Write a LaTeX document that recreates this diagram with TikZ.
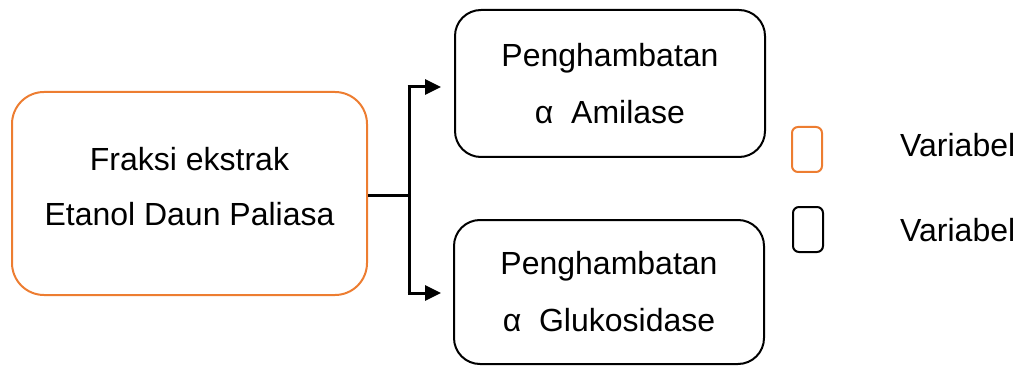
\documentclass[tikz,border=0pt]{standalone}
\usepackage{fontspec}
\setmainfont{Liberation Sans}
\usetikzlibrary{arrows.meta}
\definecolor{boxorange}{HTML}{ED7D31}
\tikzset{
  mainbox/.style={draw=black, line width=2pt, rounded corners=26pt, align=center,
    font=\fontsize{32}{57}\selectfont, inner sep=0pt},
  srcbox/.style={draw=boxorange, line width=2pt, rounded corners=32pt, inner sep=0pt},
  srctext/.style={align=center, font=\fontsize{32}{55}\selectfont, inner sep=0pt},
  keybox/.style={draw=black, line width=2pt, rounded corners=6pt, minimum width=30pt, minimum height=45pt, inner sep=0pt},
  keytext/.style={anchor=west, font=\fontsize{32}{37}\selectfont, inner sep=0pt},
  link/.style={line width=3pt},
  arrowlink/.style={line width=3pt, -{Triangle[length=16pt, width=15pt]}}
}
\begin{document}
\begin{tikzpicture}[x=1pt, y=-1pt]
\useasboundingbox (0,0) rectangle (1019,366);
\node[srcbox, minimum width=355pt, minimum height=203pt] (src) at (189.5,193.5) {};
\node[srctext] (srclabel) at ([yshift=7pt]src.center) {Fraksi ekstrak\\Etanol Daun Paliasa};
\node[mainbox, minimum width=310pt, minimum height=147pt] (amy) at (610,83.5)
  {Penghambatan\\α~~Amilase};
\node[mainbox, minimum width=310pt, minimum height=144pt] (glu) at (609,292)
  {Penghambatan\\α~~Glukosidase};
\coordinate (j) at (409,195);
\coordinate (jt) at (409,87);
\coordinate (jb) at (409,293);
\coordinate (tt) at (441,87);
\coordinate (tb) at (441,293);
\draw[link] (src.east |- j) -- (j);
\draw[link] (jt) -- (jb);
\draw[arrowlink] ([xshift=-1.5pt]jt) -- (tt);
\draw[arrowlink] ([xshift=-1.5pt]jb) -- (tb);
\node[keybox, draw=boxorange] (k1) at (807,149.5) {};
\node[keybox] (k2) at (808,229.5) {};
\node[keytext] (t1) at (900,145) {Variabel};
\node[keytext] (t2) at (900,230) {Variabel};
\end{tikzpicture}
\end{document}
